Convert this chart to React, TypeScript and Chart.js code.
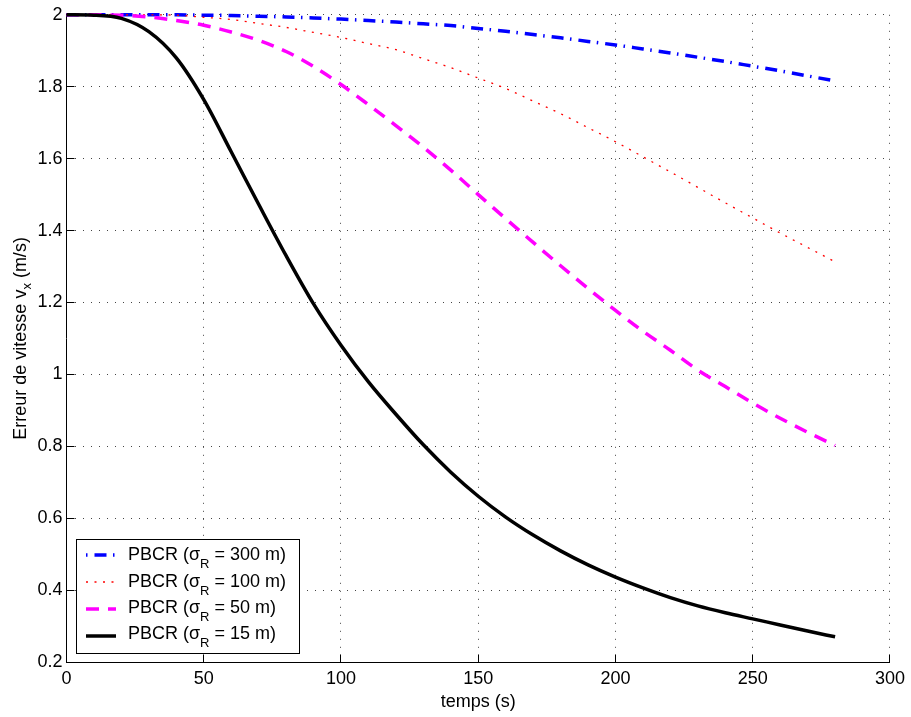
import React, { useEffect, useRef } from 'react';
import { Chart, registerables } from 'chart.js';

Chart.register(...registerables);

// ---------- data ----------
const xTicks = [0, 50, 100, 150, 200, 250, 300];
const yTicks = [0.2, 0.4, 0.6, 0.8, 1.0, 1.2, 1.4, 1.6, 1.8, 2.0];

const xTitle = 'temps (s)';
const yTitleMain = 'Erreur de vitesse v';
const yTitleSub = 'x';
const yTitleEnd = ' (m/s)';

const seriesPrefix = 'PBCR (σ';
const seriesSub = 'R';
const seriesSigmas = ['300', '100', '50', '15'];

// time samples (s)
const tSec = [0, 10, 20, 30, 40, 50, 60, 70, 80, 90, 100, 110, 120, 130, 140, 150, 160, 170, 180, 190, 200, 210, 220, 230, 240, 250, 260, 270, 280];

// sigma_R = 300 m
const v300 = [2.0, 2.0, 2.0, 2.0, 2.0, 1.999, 1.998, 1.996, 1.994, 1.991, 1.988, 1.984, 1.98, 1.975, 1.97, 1.962, 1.954, 1.945, 1.936, 1.926, 1.916, 1.905, 1.894, 1.882, 1.87, 1.857, 1.844, 1.83, 1.816];

// sigma_R = 100 m
const v100 = [2.0, 2.0, 2.0, 2.0, 1.999, 1.993, 1.987, 1.976, 1.965, 1.951, 1.937, 1.92, 1.903, 1.878, 1.853, 1.824, 1.795, 1.76, 1.725, 1.686, 1.647, 1.605, 1.563, 1.52, 1.477, 1.435, 1.393, 1.353, 1.313];

// sigma_R = 50 m
const v50 = [2.0, 2.0, 1.999, 1.994, 1.984, 1.971, 1.952, 1.929, 1.898, 1.856, 1.806, 1.75, 1.692, 1.632, 1.568, 1.5, 1.433, 1.367, 1.302, 1.239, 1.178, 1.12, 1.067, 1.012, 0.966, 0.92, 0.878, 0.839, 0.802];

// sigma_R = 15 m
const v15 = [2.0, 1.999, 1.99, 1.953, 1.88, 1.764, 1.619, 1.473, 1.33, 1.196, 1.081, 0.979, 0.889, 0.804, 0.728, 0.661, 0.603, 0.553, 0.509, 0.47, 0.436, 0.406, 0.379, 0.356, 0.337, 0.32, 0.303, 0.286, 0.27];

// ---------- styles ----------
const FONT = '"Liberation Sans", Arial, Helvetica, sans-serif';

const styles = [
  { color: '#0000ff', width: 3.5, dash: [12, 6.5, 1.5, 7], legendOffset: 18.5 },
  { color: '#ff0000', width: 1.3, dash: [2, 6.5], legendOffset: 0 },
  { color: '#ff00ff', width: 3.5, dash: [13, 9], legendOffset: 0 },
  { color: '#000000', width: 3.5, dash: [], legendOffset: 0 },
];

const toPts = (t: number[], v: number[]) => t.map((x, i) => ({ x, y: v[i] }));

const align = (p: number) => Math.round(p - 0.5) + 0.5;

const decorPlugin = {
  id: 'decor',
  afterDraw(chart: any) {
    const { ctx, chartArea: a, scales } = chart;
    const xs = scales.x;
    const ys = scales.y;
    ctx.save();

    // inward tick marks (left and bottom axes)
    ctx.strokeStyle = '#000';
    ctx.lineWidth = 1;
    ctx.setLineDash([]);
    ctx.beginPath();
    const bottom = align(a.bottom);
    const left = align(a.left);
    xTicks.forEach((v) => {
      const px = align(xs.getPixelForValue(v));
      ctx.moveTo(px, bottom);
      ctx.lineTo(px, bottom - 8);
    });
    yTicks.forEach((v) => {
      const py = align(ys.getPixelForValue(v));
      ctx.moveTo(left, py);
      ctx.lineTo(left + 8, py);
    });
    ctx.stroke();

    // x title
    ctx.fillStyle = '#000';
    ctx.font = `18px ${FONT}`;
    ctx.textAlign = 'left';
    ctx.textBaseline = 'alphabetic';
    const xw = ctx.measureText(xTitle).width;
    ctx.fillText(xTitle, (a.left + a.right) / 2 - xw / 2, 707);

    // y title (rotated, with subscript)
    ctx.save();
    ctx.translate(26, (a.top + a.bottom) / 2);
    ctx.rotate(-Math.PI / 2);
    ctx.font = `18px ${FONT}`;
    const w1 = ctx.measureText(yTitleMain).width;
    const w3 = ctx.measureText(yTitleEnd).width;
    ctx.font = `13px ${FONT}`;
    const w2 = ctx.measureText(yTitleSub).width;
    let cx = -(w1 + w2 + w3) / 2;
    ctx.font = `18px ${FONT}`;
    ctx.fillText(yTitleMain, cx, 0);
    cx += w1;
    ctx.font = `13px ${FONT}`;
    ctx.fillText(yTitleSub, cx, 5);
    cx += w2;
    ctx.font = `18px ${FONT}`;
    ctx.fillText(yTitleEnd, cx, 0);
    ctx.restore();

    // legend
    const bx = 76.5, by = 539.5, bw = 223, bh = 114;
    ctx.fillStyle = '#fff';
    ctx.fillRect(bx, by, bw, bh);
    ctx.strokeStyle = '#000';
    ctx.lineWidth = 1;
    ctx.strokeRect(bx, by, bw, bh);
    const lineYs = [555, 582, 609, 636];
    const textYs = [560, 586.5, 613, 639];
    seriesSigmas.forEach((s, i) => {
      const st = styles[i];
      ctx.save();
      ctx.strokeStyle = st.color;
      ctx.lineWidth = st.width;
      ctx.setLineDash(st.dash);
      ctx.lineDashOffset = st.legendOffset;
      ctx.beginPath();
      ctx.moveTo(86, lineYs[i]);
      ctx.lineTo(116, lineYs[i]);
      ctx.stroke();
      ctx.restore();
      ctx.fillStyle = '#000';
      let tx = 128;
      ctx.font = `18px ${FONT}`;
      ctx.fillText(seriesPrefix, tx, textYs[i]);
      tx += ctx.measureText(seriesPrefix).width;
      ctx.font = `13px ${FONT}`;
      ctx.fillText(seriesSub, tx, textYs[i] + 8);
      tx += ctx.measureText(seriesSub).width;
      ctx.font = `18px ${FONT}`;
      ctx.fillText(` = ${s} m)`, tx, textYs[i]);
    });

    ctx.restore();
  },
};

export default function App() {
  const canvasRef = useRef<HTMLCanvasElement | null>(null);

  useEffect(() => {
    document.body.style.margin = '0';
    const canvas = canvasRef.current;
    if (!canvas) return;

    const seriesData = [toPts(tSec, v300), toPts(tSec, v100), toPts(tSec, v50), toPts(tSec, v15)];
    // draw black on top: Chart.js draws dataset 0 last (on top)
    const order = [3, 2, 1, 0];
    const datasets = order.map((i) => ({
      label: `${seriesPrefix}${seriesSub} = ${seriesSigmas[i]} m)`,
      data: seriesData[i],
      borderColor: styles[i].color,
      backgroundColor: styles[i].color,
      borderWidth: styles[i].width,
      borderDash: styles[i].dash,
      borderJoinStyle: 'round' as const,
      pointRadius: 0,
      fill: false,
      cubicInterpolationMode: 'monotone' as const,
      clip: false as const,
    }));

    const chart = new Chart(canvas, {
      type: 'line',
      data: { datasets },
      plugins: [decorPlugin],
      options: {
        responsive: false,
        animation: false,
        devicePixelRatio: 1,
        layout: { padding: { top: 12, right: 19.5, left: 0, bottom: 0 } },
        plugins: {
          legend: { display: false },
          tooltip: { enabled: false },
          title: { display: false },
        },
        scales: {
          x: {
            type: 'linear',
            min: xTicks[0],
            max: xTicks[xTicks.length - 1],
            afterBuildTicks: (s: any) => {
              s.ticks = xTicks.map((value) => ({ value }));
            },
            afterFit: (s: any) => {
              s.height = 55;
            },
            ticks: {
              color: '#000',
              padding: 6,
              maxRotation: 0,
              autoSkip: false,
              font: { family: FONT, size: 18 },
              callback: (v: any) => String(v),
            },
            grid: { color: '#444', lineWidth: 1, drawTicks: false, drawOnChartArea: true },
            border: { display: true, color: '#000', width: 1, dash: [1, 7] },
          },
          y: {
            type: 'linear',
            min: yTicks[0],
            max: yTicks[yTicks.length - 1],
            afterBuildTicks: (s: any) => {
              s.ticks = yTicks.map((value) => ({ value }));
            },
            afterFit: (s: any) => {
              s.width = 66.5;
            },
            ticks: {
              color: '#000',
              padding: 4,
              autoSkip: false,
              font: { family: FONT, size: 18 },
              callback: (v: any) => String(Number(Number(v).toFixed(1))),
            },
            grid: { color: '#444', lineWidth: 1, drawTicks: false, drawOnChartArea: true },
            border: { display: true, color: '#000', width: 1, dash: [1, 7] },
          },
        },
      },
    });

    return () => {
      chart.destroy();
    };
  }, []);

  return (
    <div style={{ width: 911, height: 717, background: '#fff' }}>
      <canvas ref={canvasRef} width={911} height={717} style={{ display: 'block' }} />
    </div>
  );
}
